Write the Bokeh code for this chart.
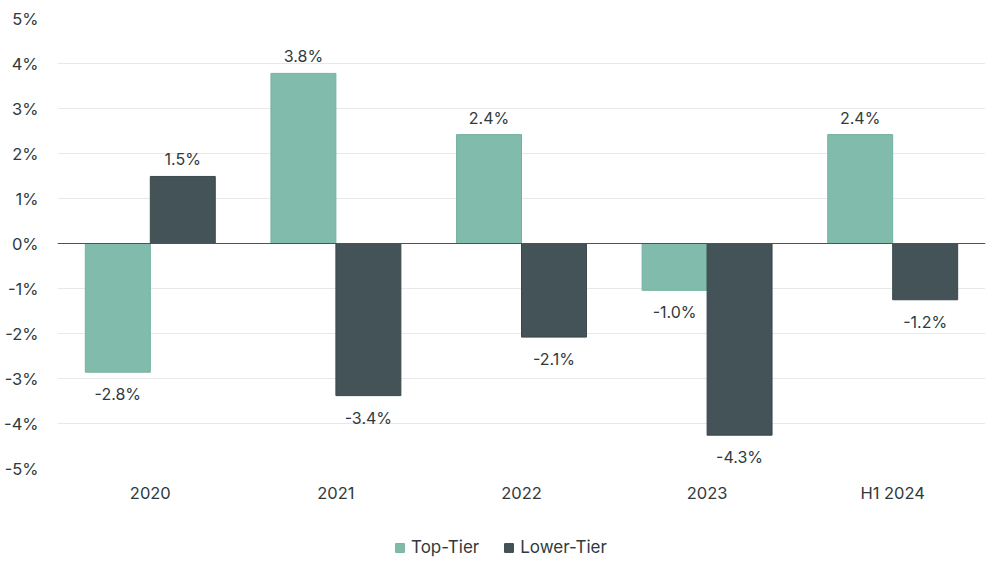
from bokeh.plotting import figure
from bokeh.layouts import column
from bokeh.models import ColumnDataSource, LabelSet, Legend, LegendItem, FixedTicker, Span
from bokeh.core.properties import value
from bokeh.transform import dodge
from bokeh.embed import file_html
from bokeh.resources import INLINE

categories = ["2020", "2021", "2022", "2023", "H1 2024"]
top_tier = [-2.86, 3.78, 2.42, -1.04, 2.42]
lower_tier = [1.49, -3.38, -2.08, -4.26, -1.25]
top_labels = ["-2.8%", "3.8%", "2.4%", "-1.0%", "2.4%"]
lower_labels = ["1.5%", "-3.4%", "-2.1%", "-4.3%", "-1.2%"]
series_names = ["Top-Tier", "Lower-Tier"]
y_ticks = [-5, -4, -3, -2, -1, 0, 1, 2, 3, 4, 5]

TOP_C = "#80bbab"
LOW_C = "#435357"
TOP_LINE = "#74b2a0"
LOW_LINE = "#3a474b"
TXT = "#2f3a3d"
FONT = "Inter"

p = figure(x_range=categories, y_range=(-5, 5), width=992, height=510,
           output_backend="svg", toolbar_location=None,
           min_border_left=57, min_border_right=7, min_border_top=18, min_border_bottom=42)

src = ColumnDataSource(dict(cat=categories, top=top_tier, low=lower_tier))

p.vbar(x=dodge("cat", -0.175, range=p.x_range), top="top", bottom=0, width=0.35,
       source=src, fill_color=TOP_C, line_color=TOP_LINE, line_width=1)
p.vbar(x=dodge("cat", 0.175, range=p.x_range), top="low", bottom=0, width=0.35,
       source=src, fill_color=LOW_C, line_color=LOW_LINE, line_width=1)

p.add_layout(Span(location=0, dimension="width", line_color="#4a5558", line_width=1.2))

for xoff, vals, labs in [(-0.175, top_tier, top_labels), (0.175, lower_tier, lower_labels)]:
    pos = ColumnDataSource(dict(cat=[c for c, v in zip(categories, vals) if v >= 0],
                                y=[v for v in vals if v >= 0],
                                t=[l for l, v in zip(labs, vals) if v >= 0]))
    neg = ColumnDataSource(dict(cat=[c for c, v in zip(categories, vals) if v < 0],
                                y=[v for v in vals if v < 0],
                                t=[l for l, v in zip(labs, vals) if v < 0]))
    p.add_layout(LabelSet(x=dodge("cat", xoff, range=p.x_range), y="y", text="t", source=pos,
                          text_align="center", text_baseline="bottom", y_offset=7,
                          text_font=value(FONT), text_font_size="16px", text_color=TXT))
    p.add_layout(LabelSet(x=dodge("cat", xoff, range=p.x_range), y="y", text="t", source=neg,
                          text_align="center", text_baseline="top", y_offset=-12,
                          text_font=value(FONT), text_font_size="16px", text_color=TXT))

p.outline_line_color = None
p.xgrid.grid_line_color = None
p.ygrid.grid_line_color = "#e8e8e8"
p.ygrid.grid_line_width = 1
p.yaxis.ticker = FixedTicker(ticks=y_ticks)
p.yaxis.major_label_overrides = {t: f"{t}%" for t in y_ticks}
for ax in (p.xaxis, p.yaxis):
    ax.axis_line_color = None
    ax.major_tick_line_color = None
    ax.minor_tick_line_color = None
    ax.major_tick_out = 0
    ax.major_tick_in = 0
    ax.major_label_text_font = FONT
    ax.major_label_text_font_size = "16.5px"
    ax.major_label_text_color = TXT
p.yaxis.major_label_standoff = 19
p.xaxis.major_label_standoff = 14

# legend panel (its bars draw from the same data, outside the visible y range)
lp = figure(width=992, height=57, output_backend="svg", toolbar_location=None,
            x_range=categories, y_range=(100, 101),
            min_border_left=57, min_border_right=7, min_border_top=9, min_border_bottom=0)
lp.axis.visible = False
lp.grid.visible = False
lp.outline_line_color = None
g1 = lp.vbar(x="cat", top="top", bottom=0, width=0.35, source=src,
             fill_color=TOP_C, line_color=TOP_LINE)
g2 = lp.vbar(x="cat", top="low", bottom=0, width=0.35, source=src,
             fill_color=LOW_C, line_color=LOW_LINE)
legend = Legend(items=[LegendItem(label=series_names[0], renderers=[g1]),
                       LegendItem(label=series_names[1], renderers=[g2])],
                orientation="horizontal", location=(337, 10),
                label_text_font=FONT, label_text_font_size="17px", label_text_color=TXT,
                glyph_width=11, glyph_height=11, spacing=24, label_standoff=6,
                border_line_color=None, background_fill_alpha=0, margin=0, padding=4)
lp.add_layout(legend, "center")

layout = column(p, lp, spacing=0)
open("out.html", "w").write(file_html(layout, INLINE))
